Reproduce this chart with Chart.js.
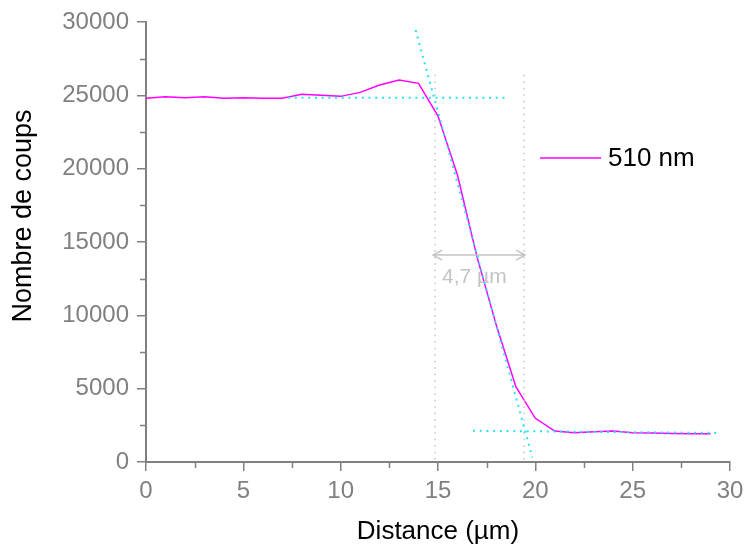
<!DOCTYPE html>
<html>
<head>
<meta charset="utf-8">
<script src="https://cdn.jsdelivr.net/npm/chart.js@4"></script>
<style>
  html, body { margin: 0; padding: 0; background: #fff; }
</style>
</head>
<body>
<canvas id="chart" width="746" height="548"></canvas>
<script>
// Data (510 nm)
const distance = [0, 1, 2, 3, 4, 5, 6, 7, 8, 9, 10, 11, 12, 13, 14, 15, 16, 17, 18, 19, 20, 21, 22, 23, 24, 25, 26, 27, 28, 29];
const counts510 = [24800, 24900, 24840, 24900, 24800, 24840, 24800, 24800, 25070, 25000,
                   24930, 25200, 25700, 26050, 25820, 23590, 19570, 14000, 9300, 5130,
                   2980, 2110, 2000, 2070, 2110, 2000, 1980, 1950, 1930, 1930];
const seriesLabel = '510 nm';

// axis ranges / tick steps
const xRange = [0, 30];
const yRange = [0, 30000];
const xStep = 5;
const yStep = 5000;

// construction lines (data coords)
const plateauLine = [[7.3, 24830], [18.6, 24830]];
const slopeLine = [[13.85, 29450], [19.85, 300]];
const baseLine = [[16.8, 2130], [29.5, 1980]];
const widthMarks = [[14.85, 26400], [19.42, 26400]];
const widthArrow = [[14.75, 14110], [19.47, 14110]];
const widthText = '4,7 µm';
const widthTextPos = [16.87, 12600];

const FONT = '"Liberation Sans", Arial, sans-serif';
const AXIS_GREY = '#808080';

// helper: draw a line in data coords
function dataLine(ctx, xs, ys, pts, color, width, dash) {
    ctx.save();
    ctx.strokeStyle = color;
    ctx.lineWidth = width;
    ctx.setLineDash(dash || []);
    ctx.beginPath();
    ctx.moveTo(xs.getPixelForValue(pts[0][0]), ys.getPixelForValue(pts[0][1]));
    ctx.lineTo(xs.getPixelForValue(pts[1][0]), ys.getPixelForValue(pts[1][1]));
    ctx.stroke();
    ctx.restore();
}

const extras = {
    id: 'extras',
    afterDatasetsDraw(chart) {
        const ctx = chart.ctx;
        const xs = chart.scales.x, ys = chart.scales.y;
        // grey vertical dotted lines
        widthMarks.forEach(m => {
            dataLine(ctx, xs, ys, [[m[0], m[1]], [m[0], 0]], '#c4c4c4', 1.5, [1.5, 5]);
        });
        // cyan tangents
        dataLine(ctx, xs, ys, plateauLine, '#22e4f0', 2, [2, 4.7]);
        dataLine(ctx, xs, ys, slopeLine, '#22e4f0', 2, [2, 4.7]);
        dataLine(ctx, xs, ys, baseLine, '#22e4f0', 2, [2, 4.7]);

        // double arrow
        const ax1 = xs.getPixelForValue(widthArrow[0][0]);
        const ax2 = xs.getPixelForValue(widthArrow[1][0]);
        const ay = ys.getPixelForValue(widthArrow[0][1]);
        ctx.save();
        ctx.strokeStyle = '#c4c4c4';
        ctx.lineWidth = 1.5;
        ctx.beginPath();
        ctx.moveTo(ax1, ay); ctx.lineTo(ax2, ay);
        ctx.moveTo(ax1 + 9, ay - 5); ctx.lineTo(ax1, ay); ctx.lineTo(ax1 + 9, ay + 5);
        ctx.moveTo(ax2 - 9, ay - 5); ctx.lineTo(ax2, ay); ctx.lineTo(ax2 - 9, ay + 5);
        ctx.stroke();
        ctx.fillStyle = '#c4c4c4';
        ctx.font = '21px ' + FONT;
        ctx.textAlign = 'center';
        ctx.textBaseline = 'middle';
        ctx.fillText(widthText, xs.getPixelForValue(widthTextPos[0]), ys.getPixelForValue(widthTextPos[1]));
        ctx.restore();
    },
    afterDraw(chart) {
        const ctx = chart.ctx;
        const xs = chart.scales.x, ys = chart.scales.y;
        const area = chart.chartArea;
        ctx.save();
        // minor ticks
        ctx.strokeStyle = AXIS_GREY;
        ctx.lineWidth = 1.5;
        ctx.beginPath();
        for (let v = xRange[0] + xStep / 2; v < xRange[1]; v += xStep) {
            const px = Math.round(xs.getPixelForValue(v)) + 0.5;
            ctx.moveTo(px, area.bottom); ctx.lineTo(px, area.bottom + 6);
        }
        for (let v = yRange[0] + yStep / 2; v < yRange[1]; v += yStep) {
            const py = Math.round(ys.getPixelForValue(v)) + 0.5;
            ctx.moveTo(area.left - 6, py); ctx.lineTo(area.left, py);
        }
        ctx.stroke();

        // y title
        ctx.fillStyle = '#000';
        ctx.font = '27px ' + FONT;
        ctx.textAlign = 'center';
        ctx.textBaseline = 'middle';
        ctx.translate(24, 216);
        ctx.rotate(-Math.PI / 2);
        ctx.fillText('Nombre de coups', 0, 0);
        ctx.restore();

        // legend inside plot
        ctx.save();
        ctx.strokeStyle = '#ff00ff';
        ctx.lineWidth = 1.5;
        ctx.beginPath();
        ctx.moveTo(540, 158); ctx.lineTo(601, 158);
        ctx.stroke();
        ctx.fillStyle = '#000';
        ctx.font = '26px ' + FONT;
        ctx.textAlign = 'left';
        ctx.textBaseline = 'middle';
        ctx.fillText(seriesLabel, 608, 159);
        ctx.restore();
    }
};

const data = {
    datasets: [{
        label: seriesLabel,
        data: distance.map((d, i) => ({ x: d, y: counts510[i] })),
        borderColor: '#ff00ff',
        backgroundColor: '#ff00ff',
        borderWidth: 1.5,
        pointRadius: 0,
        tension: 0
    }]
};

const config = {
    type: 'line',
    data,
    options: {
        responsive: false,
        animation: false,
        layout: { padding: { left: 0, top: 22, right: 16, bottom: 0 } },
        plugins: {
            legend: { display: false },
            tooltip: { enabled: false }
        },
        scales: {
            x: {
                type: 'linear',
                min: xRange[0],
                max: xRange[1],
                ticks: {
                    stepSize: xStep,
                    color: AXIS_GREY,
                    font: { family: FONT, size: 24 },
                    padding: 6,
                    callback: v => String(v)
                },
                grid: { drawOnChartArea: false, color: AXIS_GREY, lineWidth: 1.5, tickLength: 9 },
                border: { color: AXIS_GREY, width: 2 },
                title: {
                    display: true,
                    text: 'Distance (µm)',
                    color: '#000',
                    font: { family: FONT, size: 26 },
                    padding: { top: 0, bottom: 1 }
                },
                afterFit: scale => {
                    scale.height = 86;
                    scale.paddingLeft = 0;
                    scale.paddingRight = 0;
                }
            },
            y: {
                min: yRange[0],
                max: yRange[1],
                ticks: {
                    stepSize: yStep,
                    color: AXIS_GREY,
                    font: { family: FONT, size: 24 },
                    padding: 8,
                    callback: v => String(v)
                },
                grid: { drawOnChartArea: false, color: AXIS_GREY, lineWidth: 1.5, tickLength: 9 },
                border: { color: AXIS_GREY, width: 2 },
                afterFit: scale => {
                    scale.width = 146;
                    scale.paddingTop = 0;
                    scale.paddingBottom = 0;
                }
            }
        }
    },
    plugins: [extras]
};

const myChart = new Chart(document.getElementById('chart'), config);
</script>
</body>
</html>
